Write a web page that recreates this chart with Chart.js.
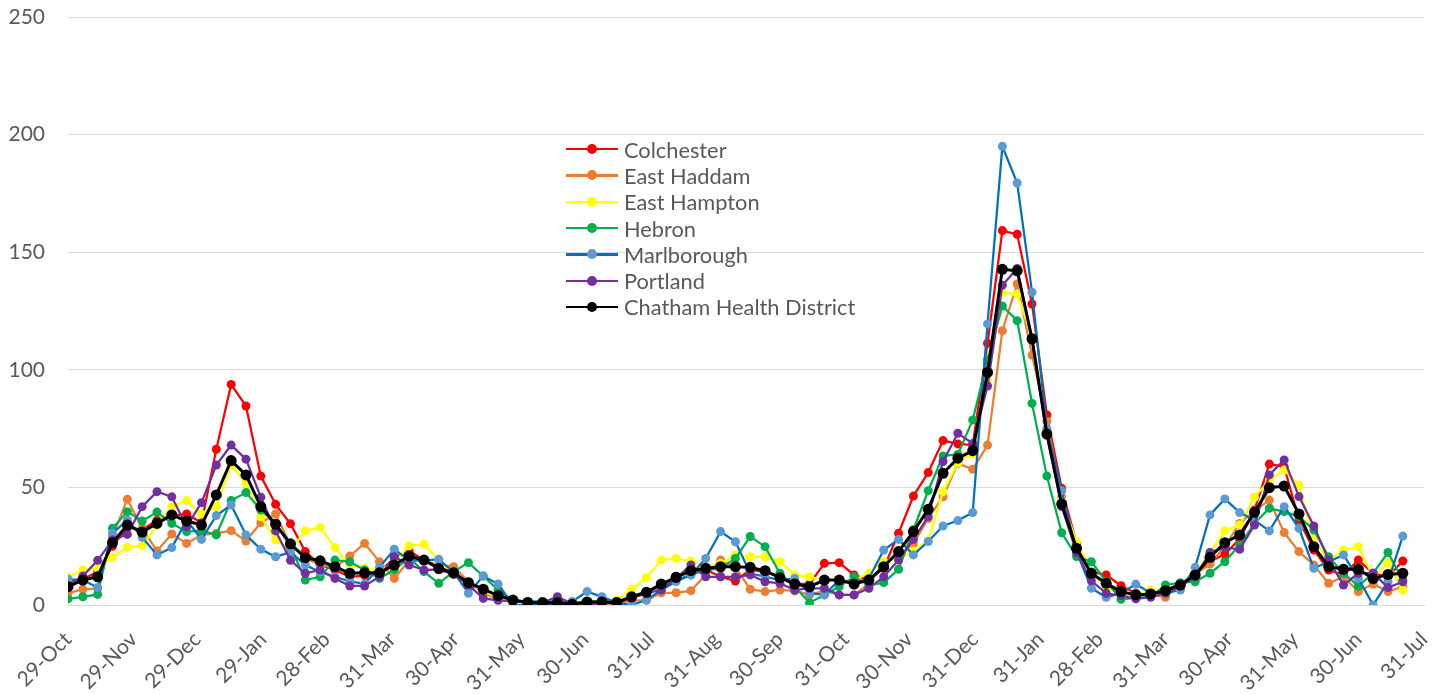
<!DOCTYPE html>
<html>
<head>
<meta charset="utf-8">
<title>Chatham Health District</title>
<script src="https://cdn.jsdelivr.net/npm/chart.js@4.4.1/dist/chart.umd.min.js"></script>
<style>
  html, body { margin: 0; padding: 0; background: #fff; }
  #wrap { position: relative; width: 1445px; height: 694px; }
  #legend { position: absolute; left: 566px; top: 136px; font-family: Lato, "Open Sans", sans-serif; font-size: 21.8px; color: #595959; }
  .item { display: flex; align-items: center; height: 26.3px; white-space: nowrap; }
  .key { position: relative; width: 52px; height: 10px; margin-right: 6px; flex: none; }
  .key .ln { position: absolute; left: 0; right: 0; top: 4px; height: 2.25px; }
  .key .dot { position: absolute; left: 21px; top: 0; width: 10px; height: 10px; border-radius: 50%; }
</style>
</head>
<body>
<div id="wrap">
  <canvas id="chart" width="1445" height="694"></canvas>
  <div id="legend"></div>
</div>
<script>
// weekly values, one per week starting 29-Oct-2020
const firstWeek = "2020-10-29"
const axisStart = "2020-10-29"
const axisEnd = "2022-07-31"

const colchester = [10, 11, 14, 25, 33, 32, 36, 38, 38.7, 35, 66.2, 93.8, 84.6, 54.8, 42.8, 34.5, 22.7, 17, 15, 12, 12.5, 14, 20, 23, 19, 16, 14, 9, 6, 3.5, 2, 1, 1, 1, 0.5, 1, 1, 1, 3, 5, 8.5, 12, 14, 15, 12, 10.2, 15, 14, 12, 9, 9, 17.7, 18, 12.8, 10.6, 15.6, 30.5, 46.3, 56.3, 69.9, 68.5, 68, 111.3, 159.2, 157.6, 128, 80.8, 49.6, 26.2, 14, 12.8, 8.2, 5, 4.5, 6.5, 9, 12.8, 18.4, 21.7, 28, 40.4, 59.9, 58.8, 36.1, 23.4, 14.9, 12.8, 19.1, 13.5, 12, 18.7]
const eastHaddam = [5, 6.7, 7, 29, 45, 32.6, 23, 30.2, 26.2, 29.8, 30.5, 31.6, 27.2, 35, 38.7, 25.5, 20, 17, 16, 20.8, 26.2, 18.4, 11.3, 19, 19, 17, 16.3, 9.9, 5, 2.5, 1.5, 1, 1.5, 1, 1, 1, 0.5, 0.5, 2, 2, 5.2, 5.2, 6.1, 12.8, 19.1, 16, 6.7, 5.7, 6.4, 6, 4.3, 6, 4.3, 4.3, 9, 17.7, 21, 26, 36.8, 46, 60.2, 57.7, 68, 116.6, 136.5, 106.3, 78, 46, 23.4, 13.5, 9, 5, 4, 4.5, 3.3, 9, 13, 17.4, 25, 34.7, 40, 44.6, 30.8, 22.7, 17, 9.2, 12, 5.7, 8.9, 5.7, 7.8]
const eastHampton = [11.8, 14.9, 15.6, 20.3, 24.5, 25.2, 34, 41.8, 44.4, 38.7, 41.8, 59.5, 51.7, 37.6, 27.6, 23.4, 31.5, 33, 24.4, 17, 15.6, 14.6, 18, 25.2, 25.8, 19.1, 12.8, 9.2, 6, 3, 2, 1.4, 1.4, 1, 0, 1, 1, 2, 6.7, 11.6, 19.1, 19.8, 18.7, 16, 17.7, 21.3, 20.5, 20.5, 18.4, 12.8, 12, 10.6, 10.6, 10.6, 13.5, 18.4, 19.8, 23, 27.3, 48.2, 60.5, 64.5, 95.7, 132.8, 132.2, 114, 74.4, 44.6, 27, 14.2, 7.1, 5, 4, 6.4, 6, 8.5, 13, 22.2, 31.6, 34, 45.8, 53.1, 57.4, 51, 27.6, 19.1, 23.4, 24.8, 12, 17.7, 6.4]
const hebron = [2.6, 3.5, 4.5, 32.6, 39.7, 35.7, 39.5, 34.7, 31.2, 31.6, 29.8, 44.4, 47.8, 40.4, 34.7, 24.8, 10.6, 12, 19.1, 18.4, 14.9, 11.3, 15, 20, 14.2, 9.2, 14.2, 18, 12.3, 6.4, 2, 1.5, 1.5, 1.5, 1, 1.5, 1.5, 1.5, 3.5, 5.7, 8.5, 10.6, 12.8, 14.9, 15.5, 19.8, 29.1, 24.8, 13.5, 7.8, 1, 4.3, 7.8, 12, 8.5, 9.5, 15.2, 32, 48.6, 63.4, 64, 78.7, 104.2, 127.1, 120.9, 85.7, 54.8, 30.7, 20.6, 18.4, 10, 2.4, 3, 3.5, 8.5, 9.5, 9.9, 13.5, 18.4, 25.5, 34.7, 41.1, 39.7, 37.6, 31.9, 20.5, 13.5, 8.1, 13.5, 22.3, 10.6]
const marlborough = [11, 10.6, 7.4, 30.5, 36.1, 28.8, 21.3, 24.4, 36.1, 27.9, 38, 42.5, 29.8, 23.7, 20.5, 22.5, 17, 14, 12, 10, 9, 16, 23.7, 19, 19, 19.4, 14, 5, 12.3, 8.9, 0, 0, 0, 0.5, 1.5, 5.7, 3.5, 1, 0, 2.1, 6.4, 10, 12.8, 19.8, 31.2, 26.9, 13.5, 12, 10.6, 11.3, 5, 4.3, 10.6, 9.2, 11.3, 23.4, 27.9, 21.3, 27, 33.6, 35.9, 39.3, 119.5, 195, 179.4, 133, 75, 48.6, 22.7, 7.1, 3.3, 5, 8.9, 5, 5, 6.4, 16, 38.3, 45.1, 39.3, 36.1, 31.5, 41.8, 32.6, 15.6, 18.4, 21.3, 11.3, 0, 9.9, 29.3]
const portland = [8, 12.3, 19, 27.6, 30, 41.8, 48.2, 46, 33.3, 43.5, 59.5, 68, 62, 45.8, 31.5, 19, 13.5, 14.9, 11.3, 8.1, 8.1, 12, 20.5, 17, 14.9, 15, 13, 8.5, 2.8, 2, 1.5, 1, 1, 3.5, 0.5, 0, 1, 1.5, 3, 5, 6.4, 11.3, 17, 12, 12, 12, 12.8, 9.9, 9.2, 6.4, 7.1, 7.1, 4.3, 4.3, 7.1, 12, 19.1, 27.9, 37.6, 61, 73, 68.7, 93.1, 136, 143.1, 112.7, 72.3, 41.8, 22.3, 10.3, 5, 4, 2.6, 3.3, 5, 8, 12, 22.3, 24.5, 23.7, 34, 55.3, 61.7, 46.1, 33.6, 19.1, 8.5, 13.5, 13.5, 7.4, 9.9]
const chatham = [7.8, 10.6, 12, 26.5, 34, 31, 34.7, 38.3, 35.7, 34, 46.8, 61.4, 55.3, 41.8, 34.3, 26, 20.1, 18.8, 16.3, 13.5, 13.7, 13.7, 17, 20.8, 19.1, 15.6, 13.7, 9.5, 6.7, 4, 2.1, 1.1, 1, 1, 0.3, 1.3, 1.3, 1, 3.5, 5.4, 8.9, 11.8, 14.6, 15.6, 16.3, 16.3, 16, 14.6, 11.6, 8.9, 7.8, 10.6, 10.6, 8.9, 10.6, 16.3, 22.7, 31.2, 40.7, 56, 62.4, 65.6, 98.9, 142.7, 142.1, 113.2, 72.7, 42.9, 24.1, 13.5, 9.2, 5.7, 4.3, 4.7, 6.1, 8.5, 12.8, 20.3, 26.5, 29.8, 39.4, 49.9, 50.6, 38.7, 24.8, 16.3, 15.2, 15.2, 11.2, 13, 13.5]

const seriesNames = ["Colchester", "East Haddam", "East Hampton", "Hebron", "Marlborough", "Portland", "Chatham Health District"]
const seriesValues = [colchester, eastHaddam, eastHampton, hebron, marlborough, portland, chatham]

const tickDates = ["2020-10-29", "2020-11-29", "2020-12-29", "2021-01-29", "2021-02-28", "2021-03-31", "2021-04-30", "2021-05-31", "2021-06-30", "2021-07-31", "2021-08-31", "2021-09-30", "2021-10-31", "2021-11-30", "2021-12-31", "2022-01-31", "2022-02-28", "2022-03-31", "2022-04-30", "2022-05-31", "2022-06-30", "2022-07-31"]
const tickLabels = ["29-Oct", "29-Nov", "29-Dec", "29-Jan", "28-Feb", "31-Mar", "30-Apr", "31-May", "30-Jun", "31-Jul", "31-Aug", "30-Sep", "31-Oct", "30-Nov", "31-Dec", "31-Jan", "28-Feb", "31-Mar", "30-Apr", "31-May", "30-Jun", "31-Jul"]

// styles (line colour, marker colour)
const lineColors = ["#FF0000", "#ED7D31", "#FFFF00", "#00B050", "#0070C0", "#7030A0", "#000000"]
const markerColors = ["#FF0000", "#ED7D31", "#FFFF00", "#00B050", "#5B9BD5", "#7030A0", "#000000"]

function dayOf(s) {
  const [y, m, d] = s.split("-").map(Number)
  const [y0, m0, d0] = axisStart.split("-").map(Number)
  return Math.round((Date.UTC(y, m - 1, d) - Date.UTC(y0, m0 - 1, d0)) / 86400000)
}

const labelFont = { family: "Lato, 'Open Sans', sans-serif", size: 21 }

function buildDatasets() {
  const start = dayOf(firstWeek)
  return seriesValues.map((vals, k) => {
    const last = k === seriesValues.length - 1
    return {
      label: seriesNames[k],
      data: vals.map((v, i) => ({ x: start + 7 * i, y: v })),
      borderColor: lineColors[k],
      backgroundColor: markerColors[k],
      pointBackgroundColor: markerColors[k],
      pointBorderColor: markerColors[k],
      borderWidth: last ? 3 : 2.25,
      pointRadius: last ? 5.5 : 4.5,
      pointBorderWidth: 0,
      tension: 0,
      order: seriesValues.length - 1 - k,
    }
  })
}

function buildLegend() {
  const box = document.getElementById("legend")
  seriesNames.forEach((name, k) => {
    const row = document.createElement("div")
    row.className = "item"
    row.innerHTML = `<span class="key"><span class="ln" style="background:${lineColors[k]}"></span><span class="dot" style="background:${markerColors[k]}"></span></span><span>${name}</span>`
    box.appendChild(row)
  })
}

function createChart() {
  const ctx = document.getElementById("chart").getContext("2d")
  new Chart(ctx, {
    type: "line",
    data: { datasets: buildDatasets() },
    options: {
      responsive: false,
      animation: false,
      devicePixelRatio: 1,
      layout: { padding: { top: 17, right: 21, left: 0, bottom: 0 } },
      plugins: { legend: { display: false }, tooltip: { enabled: false } },
      scales: {
        x: {
          type: "linear",
          min: dayOf(axisStart),
          max: dayOf(axisEnd),
          grid: { display: false, drawTicks: false },
          border: { display: true, color: "#D9D9D9", width: 1 },
          afterBuildTicks: (scale) => {
            scale.ticks = tickDates.map((d) => ({ value: dayOf(d) }))
          },
          afterFit: (scale) => {
            scale.height = 89
            scale.paddingLeft = 0
            scale.paddingRight = 0
          },
          ticks: {
            autoSkip: false,
            minRotation: 45,
            maxRotation: 45,
            padding: 22,
            color: "#595959",
            font: labelFont,
            callback: (value, index) => tickLabels[index],
          },
        },
        y: {
          min: 0,
          max: 250,
          grid: { color: "#D9D9D9", lineWidth: 1, drawTicks: false },
          border: { display: false },
          afterFit: (scale) => {
            scale.width = 68
            scale.paddingTop = 0
            scale.paddingBottom = 0
          },
          ticks: { stepSize: 50, padding: 23, color: "#595959", font: labelFont },
        },
      },
    },
  })
}

buildLegend()
createChart()
</script>
</body>
</html>
